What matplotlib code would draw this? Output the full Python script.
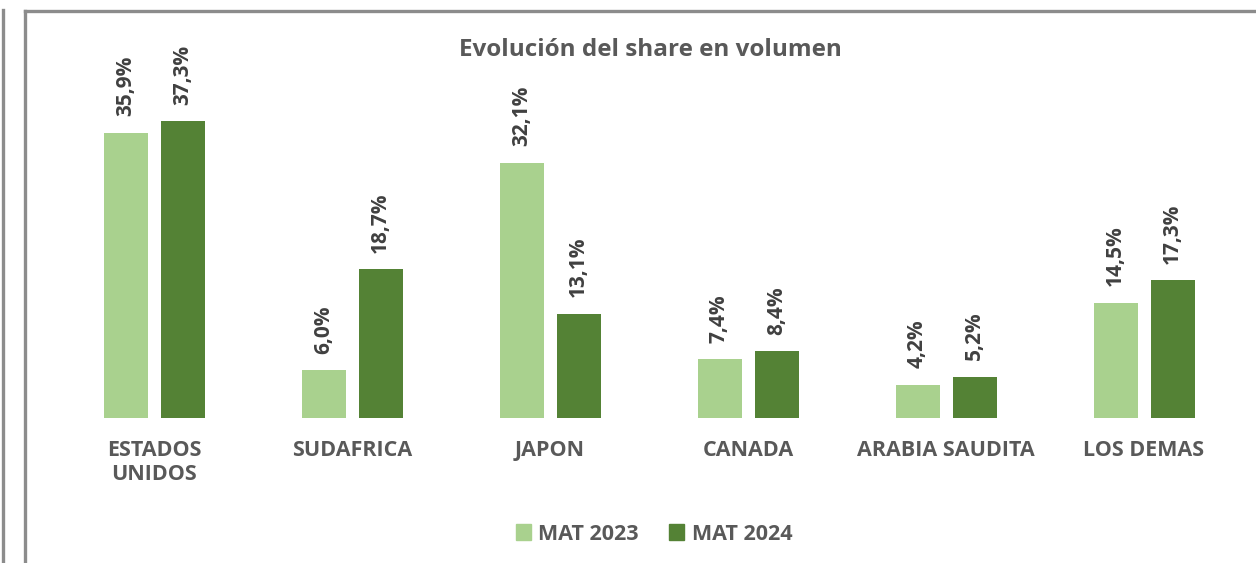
import matplotlib.pyplot as plt
import numpy as np
from matplotlib.lines import Line2D
from matplotlib.patches import Patch

# Data
categories = ['ESTADOS\nUNIDOS', 'SUDAFRICA', 'JAPON', 'CANADA', 'ARABIA SAUDITA', 'LOS DEMAS']
mat_2023 = [35.9, 6.0, 32.1, 7.4, 4.2, 14.5]
mat_2024 = [37.3, 18.7, 13.1, 8.4, 5.2, 17.3]
series_names = ['MAT 2023', 'MAT 2024']

light_green = '#A9D18E'
dark_green = '#548235'
label_grey = '#404040'
axis_grey = '#595959'
border_grey = '#8C8C8C'

plt.rcParams['font.family'] = ['Open Sans', 'DejaVu Sans']

fig = plt.figure(figsize=(12.56, 5.63), dpi=100)
ax = fig.add_axes([55 / 1256, (563 - 418) / 563, 1188 / 1256, 318 / 563])

x = np.arange(len(categories))
width = 44 / 198
offset = 57 / 2 / 198

bars1 = ax.bar(x - offset, mat_2023, width, color=light_green, label=series_names[0])
bars2 = ax.bar(x + offset, mat_2024, width, color=dark_green, label=series_names[1])

# value labels, rotated like in the original
for bars, vals in [(bars1, mat_2023), (bars2, mat_2024)]:
    for b, v in zip(bars, vals):
        ax.annotate(f"{v:.1f}%".replace('.', ','),
                    (b.get_x() + b.get_width() / 2, b.get_height()),
                    xytext=(0, 12), textcoords='offset points',
                    rotation=90, ha='center', va='bottom',
                    fontsize=15, fontweight='bold', color=label_grey)

ax.set_xlim(-0.5, len(categories) - 0.5)
ax.set_ylim(0, 40)
ax.set_xticks(x)
ax.set_xticklabels(categories, fontsize=15.5, fontweight='bold', color=axis_grey,
                   linespacing=1.15)
ax.tick_params(axis='x', length=0, pad=16)
ax.set_yticks([])
for s in ax.spines.values():
    s.set_visible(False)
ax.patch.set_alpha(0)

fig.text(650 / 1256, 1 - 50 / 563, 'Evolución del share en volumen', ha='center', va='center',
         fontsize=17.5, fontweight='bold', color=axis_grey)

handles = [Patch(color=light_green), Patch(color=dark_green)]
fig.legend(handles, series_names, loc='center', bbox_to_anchor=(654 / 1256, 1 - 534 / 563),
           ncol=2, frameon=False, handlelength=0.7, handleheight=0.7, handletextpad=0.35,
           columnspacing=1.4, prop={'size': 15.5, 'weight': 'bold'}, labelcolor=axis_grey)

# frame lines around the chart area
W, H = 1256, 563
for (x0, y0, x1, y1) in [(3, 10, 3, 563), (25, 11, 25, 563), (25, 11, 1256, 11)]:
    fig.add_artist(Line2D([x0 / W, x1 / W], [1 - y0 / H, 1 - y1 / H],
                          transform=fig.transFigure, color=border_grey, lw=2.4))

fig.savefig('out.png', dpi=100)
